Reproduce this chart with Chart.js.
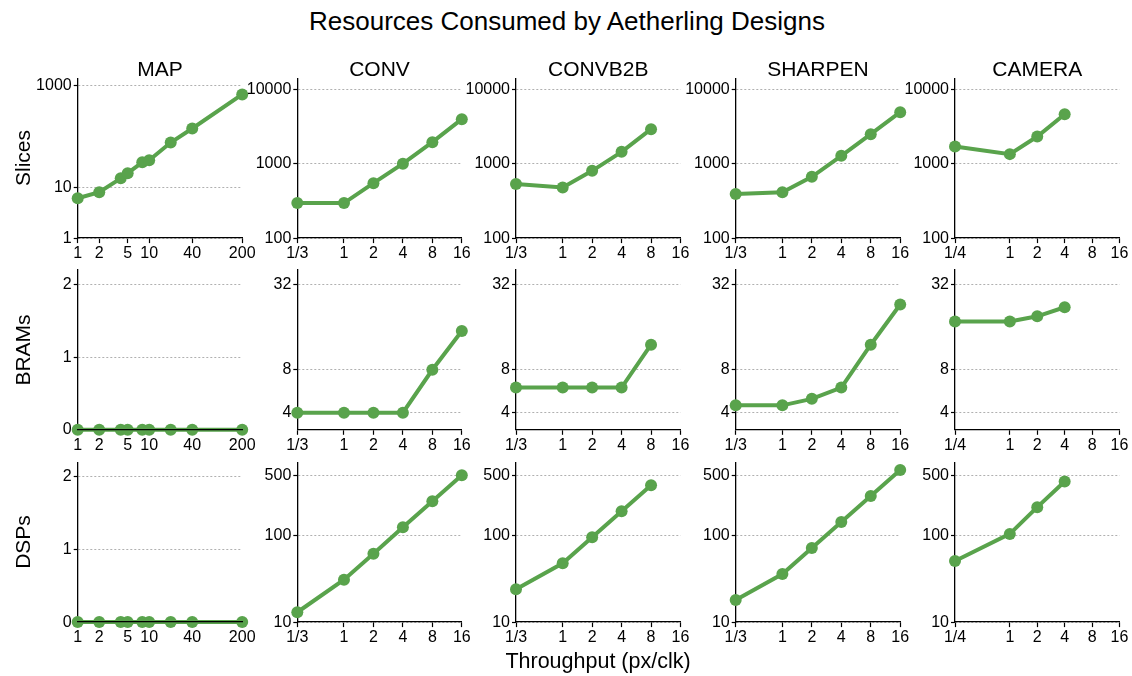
<!DOCTYPE html>
<html><head><meta charset="utf-8">
<script src="https://cdn.jsdelivr.net/npm/chart.js@4.4.0/dist/chart.umd.min.js"></script>
<style>
html,body{margin:0;padding:0;background:#fff;width:1132px;height:676px;overflow:hidden;font-family:"Liberation Sans",Arial,sans-serif;}
#wrap{position:relative;width:1132px;height:676px;}
canvas{position:absolute;}
.t{position:absolute;transform:translate(-50%,-50%);white-space:nowrap;color:#000;line-height:1;}
.r{transform:translate(-50%,-50%) rotate(-90deg);}
</style></head><body><div id="wrap"></div>
<script>
// ---- data ----
const chartTitle = 'Resources Consumed by Aetherling Designs';
const xAxisTitle = 'Throughput (px/clk)';
const panelTitles = ['MAP', 'CONV', 'CONVB2B', 'SHARPEN', 'CAMERA'];
const rowTitles = ['Slices', 'BRAMs', 'DSPs'];

const mapX = [1, 2, 4, 5, 8, 10, 20, 40, 200];
const convX = [1/3, 1, 2, 4, 8, 16];
const convb2bX = [1/3, 1, 2, 4, 8];
const sharpenX = [1/3, 1, 2, 4, 8, 16];
const cameraX = [1/4, 1, 2, 4];

const mapSlices = [6.1, 8, 15, 19, 31, 34, 76, 144, 675];
const convSlices = [295, 295, 547, 1000, 1944, 3955];
const convb2bSlices = [531, 478, 800, 1440, 2904];
const sharpenSlices = [390, 414, 665, 1273, 2489, 4912];
const cameraSlices = [1698, 1342, 2311, 4615];

const mapBrams = [0, 0, 0, 0, 0, 0, 0, 0, 0];
const convBrams = [4, 4, 4, 4, 8, 15];
const convb2bBrams = [6, 6, 6, 6, 12];
const sharpenBrams = [4.5, 4.5, 5, 6, 12, 23];
const cameraBrams = [17.5, 17.5, 19, 22];

const mapDsps = [0, 0, 0, 0, 0, 0, 0, 0, 0];
const convDsps = [13, 31, 62, 125, 250, 500];
const convb2bDsps = [24, 48, 96, 192, 384];
const sharpenDsps = [18, 36, 72, 144, 288, 576];
const cameraDsps = [51, 105, 214, 424];

// tick values and labels
const mapXTicks = [1, 2, 5, 10, 40, 200];
const mapXLabels = ['1', '2', '5', '10', '40', '200'];
const thirdXTicks = [1/3, 1, 2, 4, 8, 16];
const thirdXLabels = ['1/3', '1', '2', '4', '8', '16'];
const quarterXTicks = [1/4, 1, 2, 4, 8, 16];
const quarterXLabels = ['1/4', '1', '2', '4', '8', '16'];

const mapSliceTicks = [1, 10, 1000];
const mapSliceLabels = ['1', '10', '1000'];
const sliceTicks = [100, 1000, 10000];
const sliceLabels = ['100', '1000', '10000'];
const zeroTicks = [0, 1, 2];
const zeroLabels = ['0', '1', '2'];
const bramTicks = [4, 8, 32];
const bramLabels = ['4', '8', '32'];
const dspTicks = [10, 100, 500];
const dspLabels = ['10', '100', '500'];

// ---- layout / style ----
const FONT = '"Liberation Sans", Arial, sans-serif';
const GREEN = 'rgb(89,163,76)';
const COLS = [77.7, 297.3, 516, 735.7, 955];
const ROWS = [78.3, 270, 462.3];
const PW = 164.5, PH = 159.8;

const colX = [
  {x: mapX, xt: mapXTicks, xl: mapXLabels},
  {x: convX, xt: thirdXTicks, xl: thirdXLabels},
  {x: convb2bX, xt: thirdXTicks, xl: thirdXLabels},
  {x: sharpenX, xt: thirdXTicks, xl: thirdXLabels},
  {x: cameraX, xt: quarterXTicks, xl: quarterXLabels}
];
const rowData = [
  [mapSlices, convSlices, convb2bSlices, sharpenSlices, cameraSlices],
  [mapBrams, convBrams, convb2bBrams, sharpenBrams, cameraBrams],
  [mapDsps, convDsps, convb2bDsps, sharpenDsps, cameraDsps]
];
function yAxisFor(r, c) {
  if (r === 0) return c === 0 ? {type: 'logarithmic', min: 1, max: 1400, yt: mapSliceTicks, yl: mapSliceLabels}
                              : {type: 'logarithmic', min: 100, max: 14000, yt: sliceTicks, yl: sliceLabels};
  if (c === 0) return {type: 'linear', min: 0, max: 2.2, yt: zeroTicks, yl: zeroLabels};
  if (r === 1) return {type: 'logarithmic', min: 3.03, max: 40.2, yt: bramTicks, yl: bramLabels};
  return {type: 'logarithmic', min: 10, max: 708, yt: dspTicks, yl: dspLabels};
}

const wrap = document.getElementById('wrap');
function addText(txt, x, y, size, cls) {
  const d = document.createElement('div');
  d.className = 't' + (cls ? ' ' + cls : '');
  d.textContent = txt;
  d.style.left = x + 'px'; d.style.top = y + 'px'; d.style.fontSize = size + 'px';
  wrap.appendChild(d);
}

for (let r = 0; r < 3; r++) {
  for (let c = 0; c < 5; c++) {
    const xs = colX[c];
    const ys = rowData[r][c];
    const ya = yAxisFor(r, c);
    const L = Math.floor(COLS[c]) - 58;
    const T = Math.floor(ROWS[r]) - 14;
    const yW = COLS[c] - L;
    const padTop = ROWS[r] - T;
    const CW = 260, CH = 210;
    const cv = document.createElement('canvas');
    cv.width = CW; cv.height = CH;
    cv.style.left = L + 'px'; cv.style.top = T + 'px';
    cv.style.width = CW + 'px'; cv.style.height = CH + 'px';
    wrap.appendChild(cv);
    new Chart(cv, {
      type: 'line',
      data: {datasets: [{
        data: xs.x.map((v, i) => ({x: v, y: ys[i]})),
        borderColor: GREEN, backgroundColor: GREEN, borderWidth: 4,
        pointRadius: 6, pointHoverRadius: 6, pointBorderWidth: 0,
        pointBackgroundColor: GREEN, tension: 0, clip: false, fill: false
      }]},
      options: {
        responsive: false, animation: false, events: [],
        layout: {padding: {left: 0, top: padTop, right: CW - yW - PW, bottom: 0}},
        plugins: {legend: {display: false}, tooltip: {enabled: false}, title: {display: false}},
        scales: {
          x: {
            type: 'logarithmic', min: xs.xt[0], max: xs.xt[xs.xt.length - 1], bounds: 'data',
            afterBuildTicks: s => { s.ticks = xs.xt.map(v => ({value: v})); },
            afterFit: s => { s.height = CH - padTop - PH; s.paddingLeft = 0; s.paddingRight = 0; },
            ticks: {autoSkip: false, maxRotation: 0, minRotation: 0, padding: 1, color: '#000',
                    font: {family: FONT, size: 16}, callback: (v, i) => xs.xl[i]},
            grid: {drawOnChartArea: false, drawTicks: true, tickLength: 5, tickColor: '#000', tickWidth: 1.2, tickBorderDash: []},
            border: {display: true, color: '#000', width: 1.3, z: 1}
          },
          y: {
            type: ya.type, min: ya.min, max: ya.max, bounds: 'data',
            afterBuildTicks: s => { s.ticks = ya.yt.map(v => ({value: v})); },
            afterFit: s => { s.width = yW; s.paddingTop = 0; s.paddingBottom = 0; },
            ticks: {autoSkip: false, padding: 2, color: '#000',
                    font: {family: FONT, size: 16}, callback: (v, i) => ya.yl[i]},
            grid: {color: '#a8a8a8', lineWidth: 0.9, drawTicks: true, tickLength: 4, tickColor: '#000', tickWidth: 1.2, tickBorderDash: []},
            border: {display: true, color: '#000', width: 1.3, dash: [2, 2]}
          }
        }
      }
    });
  }
}

addText(chartTitle, 567, 21, 26);
panelTitles.forEach((t, c) => addText(t, COLS[c] + PW / 2, 68, 21));
rowTitles.forEach((t, r) => addText(t, 22, ROWS[r] + PH / 2, 21, 'r'));
addText(xAxisTitle, 598, 662, 21.5);
</script>
</body></html>
